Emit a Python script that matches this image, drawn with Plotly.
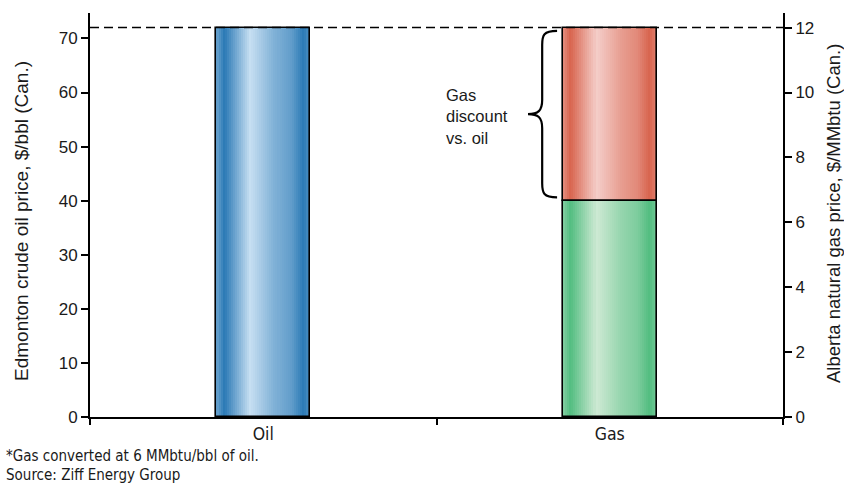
import plotly.graph_objects as go

# ---- data -------------------------------------------------------------
categories = ["Oil", "Gas"]
oil_price_bbl = 72.0        # Edmonton crude oil, $/bbl (Can.)
gas_price_mmbtu = 6.67      # Alberta natural gas, $/MMbtu (Can.)
mmbtu_per_bbl = 6.0         # conversion used for the gas equivalent
left_ticks = [0, 10, 20, 30, 40, 50, 60, 70]
right_ticks = [0, 2, 4, 6, 8, 10, 12]

oil_equiv_mmbtu = oil_price_bbl / mmbtu_per_bbl      # oil price in $/MMbtu
gas_equiv_bbl = gas_price_mmbtu * mmbtu_per_bbl      # gas price in $/bbl
discount_mmbtu = oil_equiv_mmbtu - gas_price_mmbtu

# ---- layout constants -------------------------------------------------
W, H = 844, 484
ML, MR, MT, MB = 90, 61, 13, 67
PW, PH = W - ML - MR, H - MT - MB
Y_TOP = 74.7                      # left axis upper bound, $/bbl
BAR_W = 0.27                      # bar width in category units

SANS = "Liberation Sans, Arial, sans-serif"
NARROW = "Liberation Sans Narrow, DejaVu Sans Condensed, Arial Narrow, sans-serif"
INK = "#1a1a1a"

BLUE = ("#2a79b5", "#c7dff2")
RED = ("#d8644e", "#f4cdc8")
GREEN = ("#52bd80", "#cde9d3")

# lightness profile across a bar (0 = dark, 1 = light)
PROFILE = [(0.0, 0.40), (0.08, 0.0), (0.36, 1.0), (0.62, 0.55),
           (0.80, 0.35), (0.93, 0.0), (1.0, 0.25)]


def hex_rgb(h):
    h = h.lstrip("#")
    return tuple(int(h[i:i + 2], 16) for i in (0, 2, 4))


def shade(t, dark, light):
    for (t0, m0), (t1, m1) in zip(PROFILE, PROFILE[1:]):
        if t0 <= t <= t1:
            m = m0 + (m1 - m0) * (t - t0) / (t1 - t0)
            break
    d, l = hex_rgb(dark), hex_rgb(light)
    c = [round(a + (b - a) * m) for a, b in zip(d, l)]
    return "rgb({},{},{})".format(*c)


def shaded_bar(fig, cat, base, height, yaxis, colors, n=46):
    """A bar built from thin vertical strips to give a cylinder shading."""
    step = BAR_W / n
    for i in range(n):
        off = -BAR_W / 2 + i * step
        w = min(step * 1.8, BAR_W / 2 - off)
        fig.add_trace(go.Bar(
            x=[cat], y=[height], base=[base], yaxis=yaxis,
            width=[w], offset=[off],
            marker=dict(color=shade((i + 0.5) / n, *colors), line=dict(width=0)),
            showlegend=False, hoverinfo="skip",
        ))


def outline(fig, cat, base, height, yaxis):
    fig.add_trace(go.Bar(
        x=[cat], y=[height], base=[base], yaxis=yaxis,
        width=[BAR_W], offset=[-BAR_W / 2],
        marker=dict(color="rgba(0,0,0,0)", line=dict(color="black", width=1.6)),
        showlegend=False, hoverinfo="skip",
    ))


fig = go.Figure()

# Oil bar on the $/bbl axis
shaded_bar(fig, categories[0], 0, oil_price_bbl, "y", BLUE)
# Gas bar (price + discount to oil) on the $/MMbtu axis
shaded_bar(fig, categories[1], 0, gas_price_mmbtu, "y2", GREEN)
shaded_bar(fig, categories[1], gas_price_mmbtu, discount_mmbtu, "y2", RED)

outline(fig, categories[0], 0, oil_price_bbl, "y")
outline(fig, categories[1], 0, gas_price_mmbtu, "y2")
outline(fig, categories[1], gas_price_mmbtu, discount_mmbtu, "y2")

# ---- brace marking the gas discount ------------------------------------
gas_left = 1 - BAR_W / 2
xe = gas_left - 0.017     # brace ends
xs = gas_left - 0.060     # spine
xt = gas_left - 0.101     # tip
yT = oil_price_bbl - 0.6
yB = gas_equiv_bbl + 0.6
yM = (oil_price_bbl + gas_equiv_bbl) / 2
r = 2.6
brace = (
    f"M {xe},{yT} C {xs + 0.004},{yT} {xs},{yT - 0.8} {xs},{yT - r} "
    f"L {xs},{yM + r} C {xs},{yM + 0.6} {xs - 0.012},{yM} {xt},{yM} "
    f"C {xs - 0.012},{yM} {xs},{yM - 0.6} {xs},{yM - r} "
    f"L {xs},{yB + r} C {xs},{yB + 0.8} {xs + 0.004},{yB} {xe},{yB}"
)

shapes = [
    dict(type="path", path=brace, xref="x", yref="y",
         line=dict(color="black", width=2.2), layer="above"),
    dict(type="line", xref="paper", x0=0, x1=1, yref="y",
         y0=oil_price_bbl, y1=oil_price_bbl,
         line=dict(color="black", width=1.5, dash="9px,5px"), layer="above"),
]


def px_x(px):
    return (px - ML) / PW


def px_y(py):
    return (H - MB - py) / PH


annotations = [
    dict(text="Gas<br>discount<br>vs. oil", xref="x", yref="y",
         x=1 - (609.75 - 444) / 346.5, y=yM - 0.4, xanchor="left", yanchor="middle",
         align="left", showarrow=False,
         font=dict(family=SANS, size=16.5, color=INK)),
    dict(text="Edmonton crude oil price, $/bbl (Can.)", textangle=-90,
         xref="paper", yref="paper", x=px_x(21), y=px_y(221),
         xanchor="center", yanchor="middle", showarrow=False,
         font=dict(family=SANS, size=19, color=INK)),
    dict(text="Alberta natural gas price, $/MMbtu (Can.)", textangle=-90,
         xref="paper", yref="paper", x=px_x(833), y=px_y(214),
         xanchor="center", yanchor="middle", showarrow=False,
         font=dict(family=SANS, size=18.5, color=INK)),
    dict(text="*Gas converted at 6 MMbtu/bbl of oil.", xref="paper", yref="paper",
         x=px_x(4), y=px_y(456), xanchor="left", yanchor="middle",
         showarrow=False, font=dict(family=NARROW, size=15, color=INK)),
    dict(text="Source: Ziff Energy Group", xref="paper", yref="paper",
         x=px_x(4), y=px_y(475), xanchor="left", yanchor="middle",
         showarrow=False, font=dict(family=NARROW, size=15, color=INK)),
]

fig.update_layout(
    width=W, height=H,
    margin=dict(l=ML, r=MR, t=MT, b=MB, pad=0),
    paper_bgcolor="white", plot_bgcolor="white",
    barmode="overlay", bargap=0,
    showlegend=False,
    shapes=shapes, annotations=annotations,
    xaxis=dict(
        type="category", categoryorder="array", categoryarray=categories,
        range=[-0.5, 1.5], showline=True, linecolor="black", linewidth=2,
        ticks="outside", tickson="boundaries", ticklen=6, tickwidth=2,
        tickcolor="black", showgrid=False, zeroline=False,
        tickfont=dict(family=NARROW, size=17.5, color=INK),
    ),
    yaxis=dict(
        range=[0, Y_TOP], tickvals=left_ticks, showline=True, linecolor="black",
        linewidth=2, ticks="outside", ticklen=7, tickwidth=2, tickcolor="black",
        showgrid=False, zeroline=False,
        tickfont=dict(family=SANS, size=17, color=INK),
    ),
    yaxis2=dict(
        range=[0, Y_TOP / mmbtu_per_bbl], tickvals=right_ticks, overlaying="y",
        side="right", showline=True, linecolor="black", linewidth=2,
        ticks="outside", ticklen=7, tickwidth=2, tickcolor="black",
        showgrid=False, zeroline=False,
        tickfont=dict(family=SANS, size=17, color=INK),
    ),
)

fig.write_html("out.html", config={"displayModeBar": False})
